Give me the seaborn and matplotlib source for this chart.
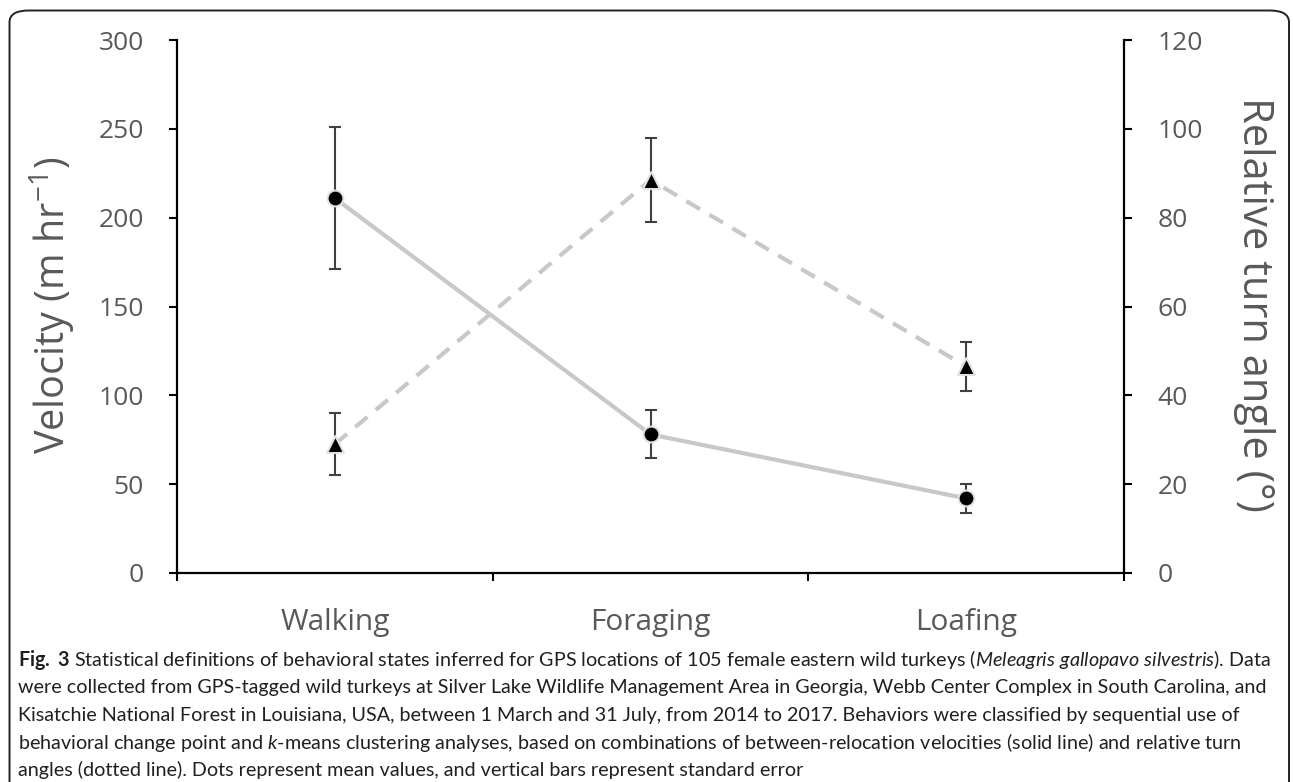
import matplotlib
matplotlib.use("Agg")
import matplotlib.pyplot as plt
from matplotlib.patches import FancyBboxPatch
import numpy as np
import pandas as pd
import seaborn as sns

# Behavioural states and their summary statistics (mean +/- standard error)
behaviors = ["Walking", "Foraging", "Loafing"]
velocity_mean = [211, 78, 42]
velocity_se = [40, 13.5, 8]
turn_mean = [29, 88.5, 46.5]
turn_se = [7, 9.5, 5.5]

velocity_ticks = [0, 50, 100, 150, 200, 250, 300]
turn_ticks = [0, 20, 40, 60, 80, 100, 120]

caption_lines = [
    r"$\mathbf{Fig.\ 3}$ Statistical definitions of behavioral states inferred for GPS locations of 105 female eastern wild turkeys "
    r"($\mathit{Meleagris\ gallopavo\ silvestris}$). Data",
    "were collected from GPS-tagged wild turkeys at Silver Lake Wildlife Management Area in Georgia, Webb Center Complex in South Carolina, and",
    "Kisatchie National Forest in Louisiana, USA, between 1 March and 31 July, from 2014 to 2017. Behaviors were classified by sequential use of",
    r"behavioral change point and $\mathit{k}$-means clustering analyses, based on combinations of between-relocation velocities (solid line) and relative turn",
    "angles (dotted line). Dots represent mean values, and vertical bars represent standard error",
]

sns.set_theme(style="white")
plt.rcParams["font.family"] = ["Open Sans", "DejaVu Sans"]
plt.rcParams["mathtext.fontset"] = "custom"
plt.rcParams["mathtext.rm"] = "Lato"
plt.rcParams["mathtext.it"] = "Lato:italic"
plt.rcParams["mathtext.bf"] = "Lato:bold"

LABEL_GRAY = "#595959"
LINE_GRAY = "#c8c8c8"
BAR_GRAY = "#404040"
HALO = "#e2e2e2"

W, H = 1293, 782
fig = plt.figure(figsize=(W / 100, H / 100), dpi=100)
fig.patch.set_facecolor("white")

# axes box in pixels
x0, x1 = 177, 1124
y_top, y_bot = 40, 573
ax = fig.add_axes([x0 / W, 1 - y_bot / H, (x1 - x0) / W, (y_bot - y_top) / H])
ax2 = ax.twinx()

pos = np.arange(len(behaviors))
df = pd.DataFrame({
    "behavior": behaviors,
    "pos": pos,
    "velocity": velocity_mean,
    "velocity_se": velocity_se,
    "turn": turn_mean,
    "turn_se": turn_se,
})

# velocity: solid line, circles
sns.lineplot(data=df, x="pos", y="velocity", ax=ax, color=LINE_GRAY, lw=3,
             solid_capstyle="butt", zorder=2)
ax.errorbar(df["pos"], df["velocity"], yerr=df["velocity_se"], fmt="none",
            ecolor=BAR_GRAY, elinewidth=1.5, capsize=4, capthick=1.5, zorder=3)
sns.scatterplot(data=df, x="pos", y="velocity", ax=ax, marker="o", s=130,
                color="black", edgecolor=HALO, linewidth=1.5, zorder=4)

# relative turn angle: dashed line, triangles
sns.lineplot(data=df, x="pos", y="turn", ax=ax2, color=LINE_GRAY, lw=3, zorder=2)
ax2.lines[-1].set_linestyle((0, (3.8, 2.6)))
ax2.lines[-1].set_dash_capstyle("butt")
ax2.errorbar(df["pos"], df["turn"], yerr=df["turn_se"], fmt="none",
             ecolor=BAR_GRAY, elinewidth=1.5, capsize=4, capthick=1.5, zorder=3)
sns.scatterplot(data=df, x="pos", y="turn", ax=ax2, marker="^", s=150,
                color="black", edgecolor=HALO, linewidth=1.5, zorder=4)

# scales
ax.set_xlim(-0.5, len(behaviors) - 0.5)
ax.set_ylim(velocity_ticks[0], velocity_ticks[-1])
ax2.set_ylim(turn_ticks[0], turn_ticks[-1])
ax.set_yticks(velocity_ticks)
ax2.set_yticks(turn_ticks)
ax.set_xticks(np.arange(-0.5, len(behaviors)), labels=[""] * (len(behaviors) + 1))
ax.set_xticks(pos, labels=behaviors, minor=True)
ax.set_xlabel("")
ax.set_ylabel("")
ax2.set_ylabel("")

for a in (ax, ax2):
    a.patch.set_alpha(0)
    a.spines["top"].set_visible(False)
    for s in a.spines.values():
        s.set_color("black")
        s.set_linewidth(1.6)
ax.spines["right"].set_visible(False)
for s in ("left", "bottom", "top"):
    ax2.spines[s].set_visible(False)

ax.tick_params(axis="y", which="major", direction="out", length=6, width=1.5,
               color="black", labelsize=19, labelcolor=LABEL_GRAY, pad=18, left=True)
ax2.tick_params(axis="y", which="major", direction="out", length=6, width=1.5,
                color="black", labelsize=19, labelcolor=LABEL_GRAY, pad=18, right=True)
ax.tick_params(axis="x", which="major", direction="out", length=6, width=1.5,
               color="black", bottom=True)
ax.tick_params(axis="x", which="minor", length=0, labelsize=21.5,
               labelcolor=LABEL_GRAY, pad=25, bottom=True)

# axis titles
fig.text(52 / W, 1 - 305 / H, "Velocity (m hr$^{\\mathregular{-1}}$)", rotation=90,
         ha="center", va="center", fontsize=28.5, color=LABEL_GRAY)
fig.text(1254 / W, 1 - 304 / H, "Relative turn angle (°)", rotation=-90,
         ha="center", va="center", fontsize=30, color=LABEL_GRAY)

# caption
for i, line in enumerate(caption_lines):
    fig.text(18 / W, 1 - (660 + 27.5 * i) / H, line, ha="left", va="center",
             fontsize=14.2, color="#231f20", family=["Lato", "DejaVu Sans"])

# rounded frame around the figure
frame = FancyBboxPatch((9.5 / W, -0.05), (1289 - 9.5) / W, 1 - 10.5 / H + 0.05,
                       boxstyle="round,pad=0,rounding_size=0.015",
                       transform=fig.transFigure, fill=False,
                       edgecolor="#222222", linewidth=1.4, zorder=10)
fig.patches.append(frame)

fig.savefig("out.png", dpi=100)
